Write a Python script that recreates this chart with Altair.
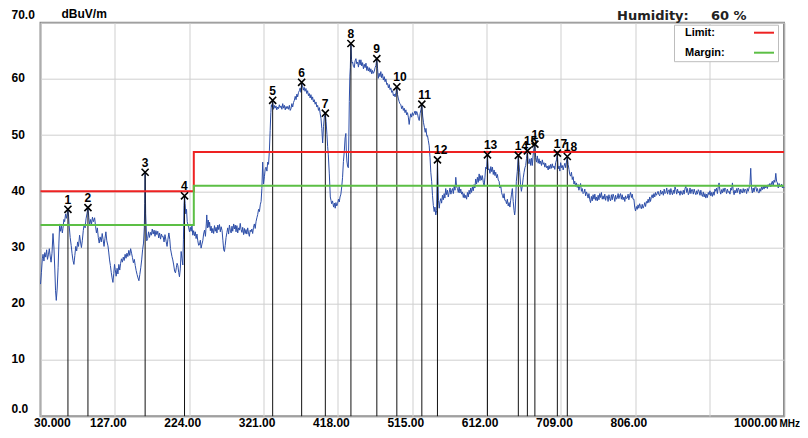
import altair as alt
import pandas as pd

# ---------------- data ----------------
trace = [
    (30.0, 23.5), (31.2, 25.6), (32.4, 28.0), (33.3, 28.8), (34.5, 27.6), (35.6, 29.1), (36.8, 28.3),
    (38.0, 29.6), (39.1, 27.9), (40.3, 28.7), (41.5, 29.8), (42.6, 28.5), (43.8, 27.4), (45.0, 29.0),
    (46.3, 32.5), (47.5, 30.1), (48.7, 26.0), (49.6, 22.4), (50.6, 20.6), (51.8, 22.8), (53.0, 26.5),
    (54.0, 30.8), (55.0, 34.2), (56.2, 32.9), (57.4, 33.8), (58.5, 32.6), (59.3, 33.4), (60.5, 35.0),
    (61.5, 34.6), (62.7, 36.0), (63.8, 35.2), (65.8, 36.8), (66.6, 35.6), (67.4, 33.9), (68.7, 31.8),
    (70.0, 30.4), (71.2, 28.9), (72.4, 27.7), (73.6, 27.0), (74.8, 28.6), (76.0, 30.2), (77.2, 29.4),
    (78.4, 31.0), (79.6, 30.2), (81.0, 32.2), (82.2, 31.0), (83.4, 30.0), (84.6, 31.3), (85.8, 33.0),
    (87.0, 34.2), (88.2, 33.5), (89.4, 35.1), (90.6, 36.0), (91.9, 37.1), (93.0, 35.4), (94.2, 34.0),
    (95.4, 35.0), (96.6, 34.2), (97.8, 35.4), (99.0, 34.6), (100.6, 35.3), (101.8, 33.8), (103.0, 32.6),
    (104.2, 33.5), (105.4, 31.8), (106.6, 30.8), (107.8, 31.9), (109.3, 31.0), (110.5, 32.5), (111.7, 31.4),
    (112.9, 30.2), (114.1, 31.6), (115.3, 32.8), (116.5, 31.2), (118.0, 30.3), (119.0, 29.2), (120.1, 27.8),
    (121.2, 26.8), (122.3, 25.6), (123.4, 24.6), (124.5, 23.8), (125.6, 25.4), (126.6, 27.0), (127.5, 26.1),
    (128.7, 24.9), (129.9, 26.3), (131.0, 25.3), (132.2, 27.0), (133.4, 26.0), (134.5, 27.2), (135.6, 28.0),
    (136.8, 27.4), (138.0, 28.3), (139.2, 27.7), (140.4, 28.8), (141.6, 28.1), (142.8, 29.0), (144.0, 28.4),
    (145.2, 29.5), (146.4, 28.6), (147.6, 29.8), (148.8, 29.0), (150.0, 28.2), (151.2, 27.3), (152.4, 27.9),
    (153.6, 26.8), (154.8, 25.9), (156.0, 25.2), (157.2, 24.6), (158.4, 24.1), (159.6, 25.2), (160.8, 26.4),
    (162.0, 27.8), (163.2, 29.6), (164.4, 30.8), (165.4, 33.5), (166.0, 37.8), (166.5, 43.4), (167.2, 36.0),
    (168.6, 31.2), (169.8, 31.6), (171.0, 32.8), (172.2, 31.8), (173.4, 32.7), (174.6, 32.2), (175.8, 33.3),
    (177.0, 32.4), (178.2, 33.1), (179.4, 32.0), (180.6, 33.0), (181.8, 32.3), (183.0, 32.9), (184.2, 31.7),
    (185.4, 32.6), (186.6, 31.5), (187.8, 32.4), (189.0, 31.9), (190.0, 32.0), (191.2, 31.0), (192.4, 32.3),
    (193.9, 31.1), (195.1, 30.2), (196.3, 31.5), (197.5, 32.6), (198.7, 31.4), (199.6, 29.8), (200.4, 29.2),
    (201.5, 28.4), (202.6, 27.8), (203.8, 26.9), (205.0, 25.8), (206.1, 25.5), (207.2, 26.4), (208.2, 27.2),
    (209.2, 26.8), (210.3, 25.6), (211.3, 24.8), (212.4, 26.2), (213.5, 29.3), (214.6, 28.0), (215.7, 26.9),
    (216.5, 31.5), (217.2, 37.5), (217.9, 39.2), (218.7, 37.8), (219.5, 36.0), (220.5, 36.8), (221.4, 34.6),
    (222.4, 34.0), (223.4, 33.5), (224.4, 32.8), (225.5, 33.6), (226.5, 32.9), (227.6, 33.9), (228.7, 32.2),
    (229.8, 33.0), (230.9, 32.1), (232.0, 32.8), (233.0, 31.6), (234.1, 32.4), (235.2, 31.2), (236.3, 30.4),
    (237.4, 30.5), (238.5, 31.3), (239.5, 29.9), (240.6, 30.6), (241.7, 31.2), (242.8, 32.4), (244.0, 33.1),
    (245.2, 32.0), (246.3, 34.2), (246.9, 35.8), (247.8, 33.5), (248.8, 34.9), (249.7, 33.6), (250.6, 34.5),
    (251.6, 33.0), (252.6, 33.8), (253.6, 32.6), (254.8, 33.4), (255.9, 32.5), (257.0, 33.9), (258.0, 32.9),
    (259.1, 33.6), (260.2, 32.6), (261.3, 34.0), (262.4, 33.2), (263.5, 34.1), (264.6, 32.8), (265.7, 33.7),
    (266.9, 33.0), (268.0, 31.2), (269.0, 29.6), (270.0, 29.3), (271.0, 30.4), (272.1, 31.8), (273.2, 32.7),
    (274.3, 33.5), (275.4, 32.4), (276.5, 34.0), (277.6, 33.1), (278.7, 32.6), (279.8, 33.8), (280.8, 32.9),
    (282.0, 34.2), (283.0, 33.3), (284.1, 34.0), (285.1, 32.8), (286.2, 33.9), (287.3, 32.6), (288.4, 33.5),
    (289.5, 33.1), (290.6, 34.3), (291.7, 33.2), (292.8, 32.7), (293.8, 33.6), (295.0, 32.3), (296.0, 33.4),
    (297.0, 32.5), (298.1, 33.2), (299.2, 32.4), (300.3, 33.5), (301.4, 32.6), (302.5, 32.0), (303.6, 33.1),
    (304.6, 32.8), (305.7, 33.3), (306.8, 32.5), (307.9, 33.6), (309.0, 34.2), (310.1, 33.4), (311.2, 34.6),
    (312.3, 35.3), (313.4, 35.9), (314.5, 36.8), (315.6, 36.4), (316.7, 37.6), (317.8, 38.2), (318.8, 40.5),
    (319.9, 45.2), (321.0, 41.3), (322.1, 42.6), (323.2, 44.0), (324.2, 44.3), (325.4, 43.6), (326.4, 45.2),
    (327.5, 44.8), (328.6, 47.2), (329.6, 50.8), (330.5, 54.0), (331.2, 55.4), (332.0, 55.0), (332.9, 56.2),
    (334.0, 54.6), (335.0, 55.3), (336.1, 54.8), (337.2, 55.2), (338.3, 54.5), (339.4, 55.0), (340.5, 54.7),
    (341.6, 55.4), (342.6, 54.9), (343.8, 55.2), (344.9, 54.6), (346.0, 55.6), (347.1, 54.8), (348.2, 55.3),
    (349.3, 54.5), (350.4, 55.1), (351.5, 54.7), (352.5, 55.1), (353.6, 54.6), (354.7, 55.3), (355.8, 54.4),
    (356.8, 54.7), (357.9, 55.6), (359.0, 55.0), (360.1, 55.8), (361.2, 56.2), (362.3, 56.9), (363.4, 56.3),
    (364.5, 57.3), (365.5, 56.8), (366.6, 57.6), (367.7, 57.9), (368.8, 58.4), (369.8, 57.6), (370.7, 59.4),
    (371.8, 58.8), (372.9, 58.0), (374.0, 58.5), (375.1, 57.8), (376.3, 58.3), (377.4, 57.4), (378.5, 57.9),
    (379.6, 57.0), (380.7, 57.4), (381.8, 56.6), (382.8, 57.2), (384.0, 56.3), (385.0, 56.8), (386.1, 55.9),
    (387.2, 56.3), (388.3, 55.5), (389.4, 55.9), (390.5, 55.0), (391.6, 55.3), (392.7, 54.4), (393.8, 54.9),
    (394.9, 53.8), (395.9, 53.0), (397.0, 51.2), (398.1, 48.6), (399.2, 51.5), (400.3, 53.2), (401.6, 53.9),
    (402.6, 52.4), (403.7, 50.1), (404.6, 48.0), (405.5, 46.5), (406.8, 43.1), (408.1, 39.0), (409.0, 38.4),
    (409.8, 37.8), (411.0, 38.3), (412.4, 37.2), (413.5, 37.9), (414.5, 37.0), (415.4, 38.0), (416.5, 37.4),
    (417.6, 37.8), (418.7, 38.6), (419.8, 38.1), (420.8, 39.0), (421.9, 39.5), (423.0, 40.8), (424.1, 42.5),
    (425.2, 45.3), (426.4, 47.2), (427.4, 49.5), (428.4, 50.3), (429.0, 47.0), (429.7, 45.4), (430.6, 44.5),
    (431.6, 44.2), (432.3, 50.0), (432.9, 56.0), (433.6, 60.5), (434.2, 62.0), (435.0, 66.3), (435.8, 63.5),
    (436.5, 62.8), (437.2, 63.0), (438.3, 62.2), (439.4, 62.0), (440.4, 63.2), (441.5, 63.6), (442.6, 62.7),
    (443.7, 63.0), (444.8, 62.1), (445.9, 63.4), (447.0, 62.5), (448.0, 63.4), (449.1, 62.3), (450.2, 62.9),
    (451.3, 61.8), (452.4, 62.6), (453.5, 62.0), (454.6, 62.8), (455.7, 61.5), (456.7, 62.2), (457.8, 61.4),
    (458.9, 62.0), (460.0, 61.2), (461.0, 61.8), (462.2, 60.9), (463.2, 61.5), (464.3, 61.0), (465.4, 61.3),
    (466.5, 62.0), (467.6, 62.4), (468.8, 63.6), (469.8, 61.8), (470.7, 60.1), (471.8, 61.0), (472.9, 60.4),
    (474.0, 61.3), (475.1, 60.2), (476.2, 60.9), (477.3, 59.8), (478.5, 60.4), (479.5, 59.5), (480.6, 60.0),
    (481.7, 59.0), (482.8, 59.2), (483.9, 58.4), (485.0, 59.0), (486.0, 58.1), (487.1, 58.4), (488.2, 57.6),
    (489.3, 57.9), (490.4, 57.0), (491.5, 57.3), (492.6, 56.8), (493.8, 57.6), (494.9, 58.6), (495.8, 57.2),
    (496.7, 56.6), (497.8, 56.0), (498.9, 55.6), (500.1, 55.4), (501.2, 54.7), (502.3, 55.2), (503.4, 54.4),
    (504.5, 54.8), (505.6, 54.0), (506.7, 54.5), (507.7, 53.6), (508.8, 54.0), (509.9, 53.2), (511.0, 51.9),
    (512.0, 53.0), (513.1, 53.8), (514.2, 53.2), (515.3, 54.0), (516.4, 53.5), (517.6, 53.9), (518.7, 54.3),
    (519.7, 53.6), (520.8, 54.2), (521.9, 53.8), (523.0, 53.0), (524.1, 52.6), (525.2, 53.8), (526.4, 54.6),
    (527.5, 55.5), (528.6, 53.4), (529.7, 52.2), (530.8, 51.4), (531.9, 50.5), (532.9, 51.2), (534.0, 49.8),
    (534.9, 49.9), (536.0, 49.0), (537.1, 48.1), (538.2, 46.0), (539.2, 43.4), (540.3, 41.8), (541.4, 39.3),
    (542.5, 37.5), (543.6, 36.4), (544.6, 37.2), (545.7, 35.8), (546.8, 36.6), (547.9, 45.6), (549.2, 38.4),
    (550.2, 37.0), (551.2, 38.2), (552.2, 38.7), (553.3, 37.9), (554.4, 39.3), (555.5, 38.5), (556.6, 39.6),
    (557.6, 38.8), (558.7, 40.5), (559.8, 39.4), (560.9, 40.2), (562.0, 39.0), (563.2, 39.8), (564.3, 40.6),
    (565.4, 39.5), (566.4, 40.1), (567.5, 40.5), (568.6, 39.6), (569.7, 41.0), (570.8, 40.2), (571.8, 42.5),
    (572.9, 40.8), (574.0, 40.5), (575.1, 39.8), (576.2, 40.9), (577.2, 39.7), (578.3, 40.4), (579.4, 39.5),
    (580.5, 39.9), (581.6, 38.9), (582.6, 39.6), (583.7, 38.8), (584.8, 39.3), (585.9, 38.6), (587.0, 39.8),
    (588.1, 39.0), (589.2, 40.2), (590.2, 39.5), (591.3, 40.6), (592.4, 39.8), (593.5, 40.8), (594.6, 40.1),
    (595.7, 41.2), (596.7, 40.6), (597.8, 42.2), (598.9, 41.3), (600.0, 42.5), (601.1, 41.6), (602.3, 43.1),
    (603.3, 41.9), (604.4, 42.8), (605.4, 42.0), (606.5, 42.8), (607.7, 41.6), (608.8, 41.0), (609.8, 42.4),
    (610.8, 44.3), (612.0, 44.0), (613.1, 46.5), (614.2, 43.8), (615.3, 44.0), (616.4, 43.2), (617.5, 44.4),
    (618.6, 43.5), (619.6, 44.3), (620.7, 43.0), (621.8, 43.8), (622.9, 42.8), (623.9, 43.4), (625.0, 42.4),
    (626.1, 43.0), (627.2, 42.0), (628.3, 41.8), (629.3, 40.6), (630.4, 41.1), (631.5, 39.8), (632.6, 39.3),
    (633.7, 38.8), (634.8, 39.6), (635.8, 38.4), (636.9, 38.4), (638.0, 37.8), (639.1, 38.6), (640.2, 37.4),
    (641.3, 38.0), (642.4, 37.2), (643.4, 38.4), (644.5, 39.5), (645.6, 40.5), (646.7, 38.2), (647.8, 36.6),
    (648.6, 35.8), (649.2, 36.5), (650.0, 38.8), (650.8, 41.8), (652.0, 43.5), (653.4, 46.4), (654.3, 44.8),
    (655.2, 43.4), (656.3, 41.2), (657.4, 40.0), (658.7, 41.1), (659.8, 42.4), (660.9, 43.4), (662.0, 44.2),
    (663.0, 44.6), (664.0, 45.8), (665.2, 47.2), (666.3, 45.2), (667.4, 44.9), (668.5, 45.8), (669.6, 44.6),
    (670.6, 45.9), (671.7, 44.6), (672.6, 46.3), (673.6, 47.6), (675.0, 48.4), (676.0, 46.0), (677.1, 45.2),
    (678.2, 46.3), (679.3, 45.0), (680.4, 45.8), (681.5, 44.9), (682.5, 45.4), (683.6, 44.6), (684.7, 45.6),
    (685.8, 44.8), (686.9, 45.1), (688.0, 44.3), (689.0, 45.0), (690.1, 44.2), (691.2, 44.5), (692.3, 43.8),
    (693.4, 44.6), (694.5, 44.0), (695.5, 44.8), (696.6, 44.1), (697.7, 44.9), (698.8, 44.2), (700.0, 44.5),
    (701.0, 43.9), (702.1, 45.1), (703.2, 45.6), (704.3, 46.8), (705.4, 44.0), (706.5, 44.5), (707.6, 43.6),
    (708.6, 45.1), (709.8, 44.2), (710.8, 44.6), (711.9, 43.8), (713.0, 44.5), (714.1, 45.0), (715.2, 44.2),
    (716.3, 45.4), (717.3, 46.2), (718.4, 44.8), (719.5, 43.9), (720.5, 43.0), (721.6, 42.7), (722.7, 43.4),
    (723.8, 42.1), (724.9, 42.6), (726.0, 41.3), (727.0, 41.8), (728.1, 40.9), (729.2, 41.5), (730.3, 40.7),
    (731.4, 41.2), (732.4, 40.2), (733.5, 40.8), (734.6, 41.4), (735.7, 40.0), (736.8, 40.5), (737.9, 39.6),
    (739.1, 39.8), (740.1, 40.4), (741.2, 39.2), (742.3, 39.9), (743.3, 39.5), (744.4, 38.8), (745.5, 39.6),
    (746.6, 38.5), (747.6, 38.0), (748.7, 39.1), (749.8, 38.3), (750.9, 39.4), (752.1, 38.6), (753.2, 39.5),
    (754.3, 38.4), (755.3, 39.0), (756.4, 38.3), (757.5, 39.3), (758.6, 38.5), (759.6, 39.6), (760.7, 38.9),
    (761.8, 39.8), (762.9, 38.6), (764.0, 39.2), (765.1, 38.6), (766.2, 39.5), (767.3, 38.4), (768.3, 39.1),
    (769.4, 39.2), (770.5, 38.2), (771.6, 39.4), (772.6, 38.7), (773.7, 38.3), (774.8, 39.4), (775.9, 38.5),
    (777.0, 39.5), (778.2, 39.0), (779.3, 38.2), (780.3, 39.3), (781.4, 38.6), (782.4, 38.8), (783.6, 39.6),
    (784.6, 38.7), (785.7, 39.3), (786.7, 39.6), (787.8, 38.6), (788.9, 39.4), (790.0, 38.5), (791.2, 39.0),
    (792.3, 38.2), (793.3, 39.2), (794.4, 38.7), (795.5, 38.8), (796.6, 39.5), (797.6, 38.5), (798.7, 39.3),
    (799.8, 39.8), (800.9, 38.9), (802.0, 39.5), (803.0, 38.6), (804.2, 38.6), (805.2, 37.2), (806.3, 36.5),
    (807.4, 37.3), (808.5, 36.8), (809.6, 37.6), (810.6, 37.0), (811.7, 37.8), (812.8, 37.3), (813.9, 36.9),
    (815.0, 37.7), (816.1, 37.0), (817.3, 37.4), (818.3, 38.0), (819.4, 37.3), (820.5, 38.2), (821.6, 37.9),
    (822.7, 38.6), (823.7, 38.0), (824.8, 39.0), (825.8, 38.2), (826.9, 38.9), (828.0, 39.4), (829.1, 38.8),
    (830.3, 39.6), (831.4, 39.0), (832.4, 39.8), (833.5, 39.3), (834.6, 39.6), (835.7, 40.0), (836.8, 39.4),
    (837.9, 39.2), (839.0, 40.2), (840.1, 39.5), (841.5, 40.0), (842.6, 39.3), (843.7, 40.4), (844.8, 39.6),
    (845.9, 39.8), (847.0, 40.6), (848.1, 39.5), (849.1, 40.1), (850.2, 40.3), (851.3, 39.4), (852.4, 40.5),
    (853.4, 39.8), (854.5, 39.4), (855.6, 40.2), (856.7, 39.6), (857.8, 40.8), (858.9, 40.3), (860.0, 39.5),
    (861.1, 40.4), (862.1, 39.7), (863.2, 40.0), (864.3, 39.3), (865.4, 40.1), (866.5, 39.6), (867.5, 39.4),
    (868.6, 40.2), (869.7, 39.5), (870.8, 40.5), (872.0, 40.9), (873.1, 39.8), (874.1, 40.5), (875.2, 39.4),
    (876.3, 39.7), (877.4, 40.6), (878.5, 39.6), (879.5, 40.3), (880.6, 40.3), (881.7, 39.5), (882.8, 40.4),
    (883.9, 39.8), (885.0, 39.4), (886.0, 40.1), (887.1, 39.5), (888.2, 40.3), (889.3, 40.0), (890.4, 39.3),
    (891.5, 40.2), (892.5, 39.4), (893.6, 39.1), (894.7, 39.9), (895.8, 39.0), (896.9, 39.6), (898.0, 38.8),
    (899.1, 39.5), (900.1, 38.9), (901.2, 39.8), (902.3, 39.4), (903.4, 40.1), (904.5, 39.2), (905.5, 39.8),
    (906.6, 39.1), (907.7, 39.9), (908.8, 39.3), (909.9, 40.4), (911.0, 40.0), (912.0, 40.6), (913.1, 39.6),
    (914.2, 40.8), (915.3, 41.5), (916.4, 40.1), (917.5, 39.5), (918.5, 40.3), (919.6, 39.7), (920.7, 40.5),
    (921.8, 39.9), (922.9, 40.6), (924.0, 40.3), (925.1, 39.6), (926.2, 40.4), (927.3, 39.8), (928.4, 40.0),
    (929.5, 39.5), (930.6, 40.6), (931.7, 40.2), (932.7, 41.5), (933.8, 40.1), (934.9, 39.4), (936.0, 40.2),
    (937.1, 39.7), (938.2, 40.5), (939.3, 39.8), (940.3, 40.6), (941.4, 40.3), (942.5, 39.5), (943.6, 40.4),
    (944.7, 39.9), (945.7, 39.7), (946.8, 40.5), (947.9, 39.8), (949.0, 40.4), (950.1, 40.3), (951.2, 39.6),
    (952.2, 40.5), (953.3, 40.0), (954.4, 40.6), (955.5, 41.2), (956.6, 44.1), (957.6, 40.6), (958.7, 39.7),
    (959.8, 40.6), (960.9, 39.9), (962.0, 40.7), (963.2, 40.9), (964.3, 40.0), (965.4, 40.5), (966.4, 39.8),
    (967.5, 39.7), (968.6, 40.5), (969.7, 40.0), (970.7, 40.8), (971.8, 40.3), (972.9, 40.9), (974.0, 40.4),
    (975.1, 41.1), (976.2, 40.6), (977.3, 41.0), (978.3, 40.5), (979.4, 41.2), (980.5, 40.9), (981.6, 41.4),
    (982.7, 40.8), (983.8, 41.5), (984.8, 41.8), (985.9, 41.0), (987.0, 42.0), (988.1, 41.6), (989.3, 43.2),
    (990.3, 41.8), (991.4, 41.5), (992.5, 40.6), (993.6, 41.4), (994.7, 40.8), (995.8, 40.9), (996.9, 41.3),
    (997.9, 40.6), (999.0, 40.9), (1000.0, 40.6),
]

marker_ids = [str(i) for i in range(1, 19)]
marker_mhz = [65.8, 91.9, 166.5, 217.9, 332.9, 370.7, 401.6, 435.0, 468.8,
              494.9, 527.5, 547.9, 613.1, 653.4, 665.2, 675.0, 704.3, 717.3]
marker_dbuv = [36.8, 37.1, 43.4, 39.2, 56.2, 59.4, 53.9, 66.3, 63.6,
               58.6, 55.5, 45.6, 46.5, 46.4, 47.2, 48.4, 46.8, 46.2]

limit_mhz = [30, 230, 230, 1000]
limit_dbuv = [40, 40, 47, 47]
margin_mhz = [30, 230, 230, 1000]
margin_dbuv = [34, 34, 41, 41]

x_ticks = [30, 127, 224, 321, 418, 515, 612, 709, 806, 903, 1000]
y_ticks = [0, 10, 20, 30, 40, 50, 60, 70]

humidity_label = "Humidity:"
humidity_value = "60 %"
legend_labels = ["Limit:", "Margin:"]
legend_colors = ["#ee2222", "#5cbf45"]

# ---------------- frames ----------------
trace_df = pd.DataFrame(trace, columns=["mhz", "dbuv"])
trace_df["i"] = range(len(trace_df))
markers_df = pd.DataFrame({"id": marker_ids, "mhz": marker_mhz, "dbuv": marker_dbuv})
limit_df = pd.DataFrame({"mhz": limit_mhz, "dbuv": limit_dbuv, "i": range(4)})
margin_df = pd.DataFrame({"mhz": margin_mhz, "dbuv": margin_dbuv, "i": range(4)})
one = pd.DataFrame({"k": [0]})

W, H = 743.5, 393.5
FONT = "Liberation Sans"

x_scale = alt.Scale(domain=[30, 1000], nice=False, zero=False)
y_scale = alt.Scale(domain=[0, 70], nice=False, zero=False)

x_axis = alt.Axis(
    values=x_ticks, title="MHz", grid=True, labelFlush=False, labelOverlap=False,
    labelExpr="datum.value == 30 ? '30.000' : (datum.value == 903 ? '' : format(datum.value, '.2f'))",
    labelAlign={"condition": [{"test": "datum.value == 30", "value": "left"},
                              {"test": "datum.value == 1000", "value": "right"}], "value": "center"},
    labelOffset=-7, labelPadding=1.5, labelBaseline="top",
    titleX=W - 5, titleY=7.5, titleAlign="left", titleBaseline="middle",
    titleFont=FONT, titleFontSize=10, titleFontWeight="bold", titleColor="#000",
)
y_axis = alt.Axis(
    values=y_ticks, title="dBuV/m", grid=True, labelFlush=False, labelOverlap=False,
    labelExpr="datum.value == 70 ? '70.0' : (datum.value == 0 ? '0.0' : datum.value)",
    labelAlign="left", labelPadding=29.5, labelOffset=-1,
    labelBaseline={"condition": [{"test": "datum.value == 70", "value": "bottom"},
                                 {"test": "datum.value == 0", "value": "bottom"}], "value": "middle"},
    titleAngle=0, titleX=20.5, titleY=-5.3, titleAlign="left", titleBaseline="alphabetic",
    titleFont=FONT, titleFontSize=12, titleFontWeight="bold", titleColor="#000",
)

trace_layer = alt.Chart(trace_df).mark_line(color="#2d4ea8", strokeWidth=1).encode(order="i:Q")

rules = alt.Chart(markers_df).mark_rule(color="#111", strokeWidth=1).encode(y2=alt.datum(0))

limit_layer = alt.Chart(limit_df).mark_line(color=legend_colors[0], strokeWidth=2).encode(order="i:Q")
margin_layer = alt.Chart(margin_df).mark_line(color=legend_colors[1], strokeWidth=2).encode(order="i:Q")

crosses = alt.Chart(markers_df).mark_point(
    shape="M-1,-1L1,1M-1,1L1,-1", size=50, color="#000", strokeWidth=1.6, opacity=1, filled=False,
).encode(size=alt.value(50))

numbers = alt.Chart(markers_df).mark_text(
    align="left", baseline="alphabetic", dx=-3.5, dy=-5.5, font=FONT, fontSize=12,
    fontWeight="bold", color="#000",
).encode(text="id:N")

# header text and legend box
txt = dict(align="left", baseline="alphabetic", font="DejaVu Sans", fontSize=13,
           fontWeight="bold", color="#222")
hum1 = alt.Chart(one).mark_text(**txt).encode(
    x=alt.value(576.5), y=alt.value(-2.5), text=alt.value(humidity_label))
hum2 = alt.Chart(one).mark_text(**txt).encode(
    x=alt.value(670.5), y=alt.value(-2.5), text=alt.value(humidity_value))

legend_box = alt.Chart(one).mark_rect(fill="white", stroke="#bdbdbd", strokeWidth=1).encode(
    x=alt.value(634), x2=alt.value(738), y=alt.value(2.5), y2=alt.value(39))
ltxt = dict(align="left", baseline="middle", font=FONT, fontSize=11, fontWeight="bold", color="#000")
leg_t1 = alt.Chart(one).mark_text(**ltxt).encode(
    x=alt.value(644.5), y=alt.value(10.5), text=alt.value(legend_labels[0]))
leg_t2 = alt.Chart(one).mark_text(**ltxt).encode(
    x=alt.value(644.5), y=alt.value(30.5), text=alt.value(legend_labels[1]))
leg_l1 = alt.Chart(one).mark_rule(color=legend_colors[0], strokeWidth=2).encode(
    x=alt.value(713.5), x2=alt.value(733.5), y=alt.value(10))
leg_l2 = alt.Chart(one).mark_rule(color=legend_colors[1], strokeWidth=2).encode(
    x=alt.value(713.5), x2=alt.value(733.5), y=alt.value(30))

chart = alt.layer(
    trace_layer, rules, limit_layer, margin_layer, crosses, numbers,
    hum1, hum2, legend_box, leg_t1, leg_t2, leg_l1, leg_l2,
).encode(
    x=alt.X("mhz:Q", scale=x_scale, axis=x_axis),
    y=alt.Y("dbuv:Q", scale=y_scale, axis=y_axis),
).properties(
    width=W, height=H,
    padding={"left": 32.5, "top": 14.7, "right": 16, "bottom": 13.8},
    autosize=alt.AutoSizeParams(type="none"),
    background="white",
).configure_view(
    stroke="#8c8c8c", strokeWidth=2,
).configure_axis(
    gridColor="#cfcfcf", gridWidth=1, domain=False, ticks=False,
    labelFont=FONT, labelFontSize=12, labelFontWeight="bold", labelColor="#000",
)

chart.save("out.html", embed_options={"renderer": "svg", "actions": False})
